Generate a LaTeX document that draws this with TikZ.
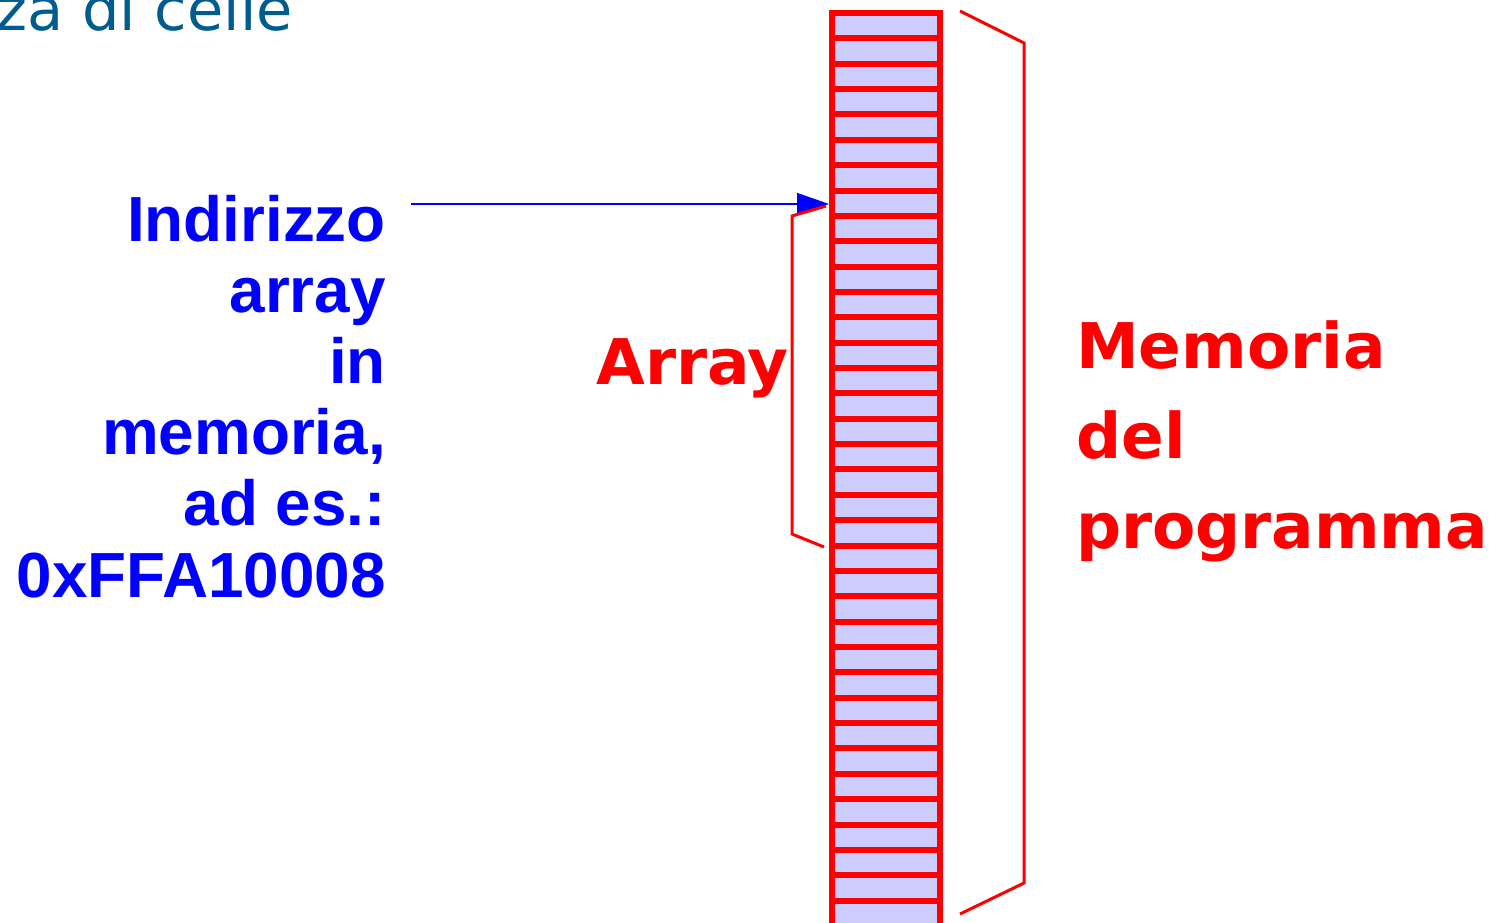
\documentclass[tikz,border=0pt]{standalone}
\usepackage{fontspec}
\setmainfont{DejaVu Sans}
\newfontfamily\arialb{Liberation Sans}[BoldFont={* Bold}]
\newfontfamily\dejab{DejaVu Sans}
\usetikzlibrary{arrows.meta}
\definecolor{cellfill}{RGB}{204,204,255}
\definecolor{titleblue}{RGB}{0,91,143}
\definecolor{lblue}{RGB}{0,0,255}
\definecolor{lred}{RGB}{255,0,0}
\tikzset{
  cell/.style={draw=lred, fill=cellfill, line width=6pt, minimum width=108pt, minimum height=25.36pt, inner sep=0pt, anchor=north},
  bluelbl/.style={text=lblue, font=\arialb\bfseries\fontsize{63.8}{71.2}\selectfont, align=right, inner sep=0pt},
  redlbl/.style={text=lred, font=\dejab\bfseries\fontsize{63}{90}\selectfont, inner sep=0pt},
  bracket/.style={draw=lred, line width=3pt},
  ptr/.style={draw=lblue, line width=1.5pt, -{Triangle[length=32pt,width=22pt]}}
}
\begin{document}
\begin{tikzpicture}[x=1pt,y=-1pt]
\useasboundingbox (0,0) rectangle (1507,922);
\clip (0,0) rectangle (1507,922);
\fill[white] (0,0) rectangle (1507,922);
% partial title
\node[anchor=base east, inner sep=0pt, text=titleblue, font=\fontsize{59}{62}\selectfont] (title) at (293,30) {za di celle};
% memory column
\foreach \i in {1,...,36} {
  \node[cell] (c\i) at (886,{10+25.36*(\i-1)}) {};
}
% labels
\node[bluelbl, anchor=base east] (addr) at (386,597) {Indirizzo\\array\\in\\memoria,\\ad es.:\\0xFFA10008};
\node[redlbl, anchor=base east] (arr) at (789,384) {Array};
\node[redlbl, anchor=base west, align=left] (mem) at (1076,548) {Memoria\\del\\programma};
% pointer arrow
\coordinate (ps) at (411,204);
\draw[ptr] (ps) -- (ps -| c8.west);
% array bracket
\coordinate (a1) at (826,206);
\coordinate (a2) at (792,216);
\coordinate (a3) at (792,534);
\coordinate (a4) at (824,547);
\draw[bracket] (a1) -- (a2) -- (a3) -- (a4);
% memory bracket
\coordinate (m1) at (960,11);
\coordinate (m2) at (1024,43);
\coordinate (m3) at (1024,883);
\coordinate (m4) at (960,914);
\draw[bracket] (m1) -- (m2) -- (m3) -- (m4);
\end{tikzpicture}
\end{document}
